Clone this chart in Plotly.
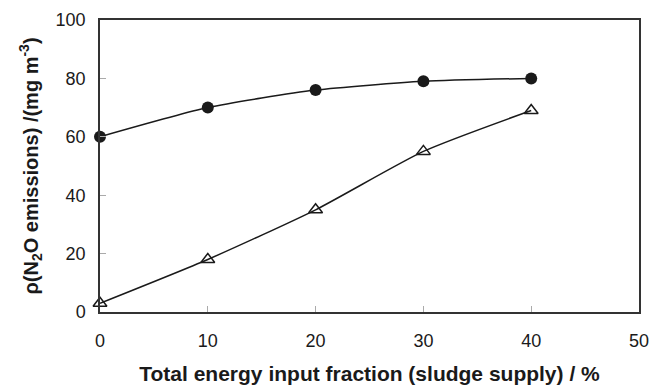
import plotly.graph_objects as go

x_vals = [0, 10, 20, 30, 40]
circles = [60, 70, 76, 79, 80]
triangles = [3, 18, 35, 55, 69]
x_ticks = [0, 10, 20, 30, 40, 50]
y_ticks = [0, 20, 40, 60, 80, 100]

fig = go.Figure()
fig.add_trace(go.Scatter(
    x=x_vals, y=circles, mode="lines+markers",
    line=dict(color="#1a1a1a", width=1.5, shape="spline", smoothing=0.6),
    marker=dict(symbol="circle", size=12, color="#1a1a1a"),
    cliponaxis=False, showlegend=False))
fig.add_trace(go.Scatter(
    x=x_vals, y=triangles, mode="lines+markers",
    line=dict(color="#1a1a1a", width=1.5, shape="spline", smoothing=0.6),
    marker=dict(symbol="triangle-up-open", size=12, color="#1a1a1a", line=dict(width=1.5)),
    cliponaxis=False, showlegend=False))

font = "Liberation Sans, Arial, sans-serif"
fig.update_layout(
    width=652, height=390,
    margin=dict(l=100, r=13, t=20, b=78),
    paper_bgcolor="white", plot_bgcolor="white",
    font=dict(family=font, size=18, color="#1a1a1a"),
    xaxis=dict(range=[0, 50], tickvals=x_ticks, showgrid=False, zeroline=False,
               showline=True, linecolor="#333333", linewidth=1.5, mirror=True,
               ticks="inside", ticklen=6, tickcolor="#aaaaaa",
               ticklabelstandoff=12, automargin=False,
               title=dict(text="<b>Total energy input fraction (sludge supply) / %</b>",
                          font=dict(size=21), standoff=16)),
    yaxis=dict(range=[0, 100], tickvals=y_ticks, showgrid=False, zeroline=False,
               showline=True, linecolor="#333333", linewidth=1.5, mirror=True,
               ticks="inside", ticklen=6, tickcolor="#aaaaaa",
               ticklabelstandoff=9, automargin=False,
               title=dict(text="<b>ρ(N<sub>2</sub>O emissions) /(mg m<sup>-3</sup>)</b>",
                          font=dict(size=20), standoff=12)),
)
fig.write_html("out.html")
